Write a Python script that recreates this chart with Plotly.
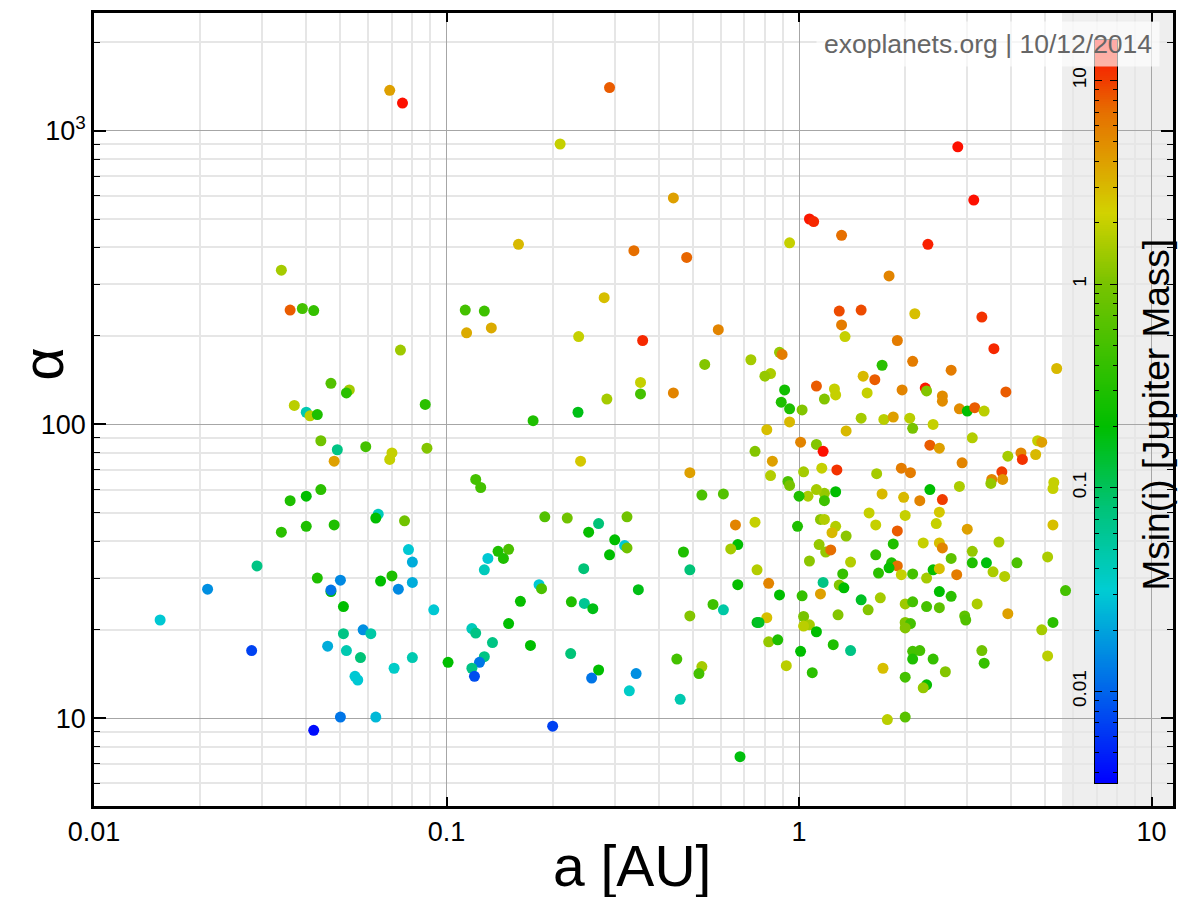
import numpy as np
import plotly.graph_objects as go

# ---------------- data ----------------
a_au = [
    0.069, 0.075, 0.034, 0.036, 0.039, 0.042, 0.074, 0.047, 0.053, 0.052,
    0.037, 0.040, 0.041, 0.043, 0.087, 0.044, 0.049, 0.059, 0.070, 0.069,
    0.048, 0.088, 0.044, 0.040, 0.036, 0.064, 0.063, 0.076, 0.048, 0.040,
    0.034, 0.078, 0.080, 0.029, 0.043, 0.050, 0.065, 0.070, 0.080, 0.073,
    0.021, 0.047, 0.047, 0.051, 0.092, 0.0154, 0.058, 0.061, 0.051, 0.028,
    0.046, 0.052, 0.057, 0.080, 0.071, 0.055, 0.056, 0.050, 0.063, 0.042,
    0.29, 0.21, 0.44, 0.16, 0.34, 0.48, 0.28, 0.113, 0.128, 0.114,
    0.134, 0.237, 0.36, 0.59, 0.54, 0.73, 0.355, 0.355, 0.285, 0.44,
    0.236, 0.176, 0.24, 0.49, 0.75, 0.121, 0.125, 0.53, 0.61, 0.19,
    0.22, 0.325, 0.27, 0.253, 0.66, 0.75, 0.30, 0.32, 0.325, 0.67,
    0.64, 0.29, 0.47, 0.14, 0.15, 0.145, 0.131, 0.128, 0.245, 0.49,
    0.76, 0.183, 0.186, 0.67, 0.35, 0.162, 0.226, 0.246, 0.26, 0.57,
    0.61, 0.49, 0.76, 0.118, 0.121, 0.15, 0.135, 0.173, 0.225, 0.128,
    0.124, 0.118, 0.12, 0.101, 0.27, 0.258, 0.345, 0.33, 0.45, 0.53,
    0.52, 0.46, 0.20, 0.68,
    2.82, 3.13, 1.07, 1.1, 1.32, 0.94, 2.32, 1.8, 1.3, 1.5,
    1.32, 1.35, 2.13, 3.3, 3.57, 1.9, 5.38, 0.88, 0.895, 0.83,
    0.8, 1.72, 2.1, 2.7, 1.52, 1.64, 1.12, 0.91, 1.26, 1.27,
    1.56, 1.96, 2.28, 2.3, 2.55, 2.55, 3.86, 1.18, 0.89, 0.94,
    1.02, 2.85, 3.0, 3.15, 3.35,
    0.94, 0.81, 1.36, 1.5, 1.74, 1.85, 2.06, 2.1, 2.4, 3.1,
    1.01, 1.12, 1.17, 0.84, 1.28, 1.16, 1.03, 0.83, 0.93, 0.94,
    1.66, 1.95, 2.07, 2.35, 2.5, 2.9, 3.76, 3.52, 3.78, 3.5,
    3.91, 4.26, 4.3, 4.69, 4.75, 4.88, 5.28, 5.25, 5.25, 5.07,
    5.7, 5.25, 4.88, 5.07, 2.85, 2.35, 2.55, 2.2, 1.98, 1.72,
    1.27, 1.18, 1.12, 1.18, 1.06, 1.0, 2.5, 2.45, 2.0, 1.58,
    1.65, 1.9, 3.0, 3.69, 0.99, 1.15, 1.18, 1.27, 1.24, 1.36,
    1.14, 1.19, 1.23, 1.85, 2.25, 2.5, 2.55, 3.1, 2.7, 3.1,
    3.4, 4.15, 3.55, 3.83, 1.65, 1.07, 1.4, 1.83, 1.9, 1.8,
    1.33, 1.68, 1.95, 2.1, 2.3, 2.4, 2.5, 2.8, 1.17, 0.82,
    1.3, 1.34, 0.88, 1.02, 1.15, 1.5, 1.7, 2.5, 2.7, 3.2,
    3.91, 1.57, 2.0, 2.1, 2.3, 2.5, 2.95, 2.97, 1.29, 1.03,
    1.07, 1.03, 0.81, 0.77, 1.12, 2.0, 2.07, 2.0, 0.82, 0.87,
    1.25, 1.4, 1.01, 2.1, 2.2, 2.1, 2.4, 3.3, 3.35, 0.92,
    1.09, 1.73, 2.6, 2.0, 2.3, 2.25, 1.78, 2.0,
]

alpha = [
    1370, 1240, 335, 245, 248, 244, 179, 138, 131, 128,
    116, 110, 107, 108, 117, 88, 82, 84, 80, 76,
    75, 83, 60, 57, 55, 49.5, 48, 47, 45.5, 45,
    43, 37.5, 34, 33, 30, 29.5, 29.3, 30.5, 29, 27.5,
    27.5, 27, 27.3, 24, 23.4, 21.6, 20, 19.4, 19.4, 17,
    17.6, 17, 16.1, 16.1, 14.8, 13.9, 13.5, 10.1, 10.1, 9.1,
    1400, 900, 590, 410, 390, 370, 270, 245, 243, 205,
    213, 199, 193, 210, 160, 166, 139, 127, 122, 128,
    110, 103, 75, 68.5, 81, 65, 61, 57.5, 58, 48.5,
    48, 48.5, 46, 43, 45.5, 46.5, 40.5, 38.7, 38, 39,
    37.7, 36, 36.8, 37, 37.6, 35, 35, 32, 32.3, 32,
    32, 28.5, 27.6, 28.5, 27.4, 25, 24.9, 24.6, 23.6, 24.4,
    23.4, 22.3, 21.2, 20.2, 19.5, 21, 18.1, 17.7, 16.6, 16.2,
    15.5, 14.8, 13.9, 15.5, 14.6, 13.7, 14.2, 12.4, 15.9, 15,
    14.2, 11.6, 9.4, 7.4,
    880, 580, 500, 490, 440, 415, 410, 320, 243, 245,
    218, 199, 238, 232, 181, 193, 155, 176, 173, 149,
    146, 159, 164, 153, 146, 142, 135, 131, 132, 126,
    128, 131, 133, 130, 125, 120, 129, 122, 119, 113,
    112, 113, 111, 114, 111,
    102, 96, 95, 105, 104, 106, 105, 97, 100, 90,
    87, 85.5, 81, 75, 70, 71, 69, 67, 64, 62,
    68, 71, 68.5, 85, 83, 74, 69, 65, 65, 63,
    78, 80, 76, 79, 88, 87, 63.5, 60.5, 45.5, 35.4,
    27.2, 21.2, 20, 16.3, 61.5, 60, 55.5, 55, 56.5, 58,
    59, 58.3, 60, 55, 57, 57, 50.3, 46, 49, 50,
    45.5, 43.4, 44, 39.8, 45, 47.5, 47.5, 45, 42.8, 41.7,
    39, 36.8, 37.4, 39.2, 39.5, 39.5, 38, 37, 35, 33.8,
    33.8, 33.8, 31.5, 30.4, 36, 34.3, 34, 33.8, 33, 32.5,
    31, 31.2, 30.8, 31, 30, 32, 32.3, 30.8, 29, 28.8,
    28.4, 27.8, 26.3, 26.1, 26.5, 25.3, 25.7, 27, 26, 24.5,
    22.7, 23.4, 24.5, 24.9, 24, 23.8, 22.3, 21.6, 22.5, 22.2,
    20.8, 20.6, 22, 21.2, 19.7, 21.2, 21, 20.3, 18.2, 18.5,
    17.8, 17, 16.9, 16.9, 17, 15.9, 15.9, 17, 15.4, 15.1,
    14.3, 14.8, 14.4, 13.8, 13.0, 12.7, 9.9, 10.1,
]

msini = [
    4, 15, 1.5, 8, 0.5, 0.4, 1.4, 0.6, 1.5, 0.35,
    1.8, 0.045, 1.8, 0.3, 0.35, 0.9, 0.07, 0.5, 2, 2,
    4, 1.1, 0.35, 0.2, 0.3, 0.04, 0.2, 0.9, 0.3, 0.3,
    0.35, 0.03, 0.022, 0.07, 0.3, 0.015, 0.2, 0.3, 0.022, 0.015,
    0.016, 0.2, 0.012, 0.2, 0.03, 0.03, 0.016, 0.05, 0.07, 0.007,
    0.022, 0.045, 0.08, 0.045, 0.035, 0.03, 0.03, 0.012, 0.025, 0.004,
    8, 2, 4, 3, 7, 7.5, 2.8, 0.5, 0.45, 3.5,
    3.5, 2, 12, 5.5, 1.1, 1.5, 2, 0.5, 1.5, 5.5,
    0.17, 0.3, 2.5, 4, 1.1, 0.5, 0.5, 0.55, 0.6, 0.6,
    0.9, 0.9, 0.08, 0.22, 5.5, 2, 0.2, 0.03, 0.9, 0.2,
    1.5, 0.2, 0.3, 0.3, 0.55, 0.3, 0.03, 0.04, 0.08, 0.08,
    1.7, 0.03, 0.55, 0.22, 0.17, 0.22, 0.3, 0.06, 0.17, 0.45,
    0.05, 1.1, 0.17, 0.04, 0.07, 0.2, 0.07, 0.2, 0.08, 0.07,
    0.012, 0.07, 0.008, 0.2, 0.2, 0.012, 0.016, 0.035, 0.5, 1.5,
    0.5, 0.045, 0.007, 0.18,
    15, 15, 14, 12, 7, 2, 13, 5.5, 9, 9,
    6, 2, 2.8, 11, 12, 6, 3, 1.3, 6, 1.6,
    1.3, 0.35, 6, 6, 3, 8, 8, 0.25, 2, 2,
    2, 5.5, 14, 1.1, 5, 5, 8, 1.1, 0.3, 0.3,
    1.1, 5, 0.2, 8, 1.8,
    3, 2.8, 3, 1.5, 1.8, 4, 1.8, 1.0, 2, 1.7,
    5.5, 1.1, 15, 4, 11, 2, 1.5, 1.7, 0.55, 1.0,
    1.5, 6, 6, 8, 4, 5.5, 10, 5.5, 4.5, 1.3,
    1.5, 5.5, 11, 3, 2, 4, 2, 2, 2.8, 1.6,
    0.5, 0.35, 1.5, 1.8, 1.6, 0.2, 10, 5.5, 3, 3,
    0.2, 1.3, 1.5, 0.45, 1.6, 0.3, 2.5, 2, 2, 2,
    2, 8, 4, 1.6, 0.3, 1.2, 1.7, 1.7, 3, 1.2,
    1.3, 1.3, 7, 0.3, 2, 2.8, 5.5, 1.3, 0.7, 0.3,
    0.18, 0.55, 1.6, 1.7, 0.4, 1.2, 1.7, 0.3, 7, 0.22,
    0.4, 0.35, 2, 0.5, 1.5, 0.22, 2.8, 6, 0.07, 5.5,
    1.1, 0.2, 0.2, 0.4, 4, 0.15, 1.5, 0.2, 0.35, 1.6,
    4, 1.1, 1.4, 0.5, 0.5, 0.7, 0.7, 0.6, 1.1, 1.0,
    1.5, 1.8, 2.8, 0.15, 0.2, 1.1, 0.5, 1.1, 1.3, 0.3,
    0.3, 0.07, 0.2, 0.5, 0.5, 0.3, 0.4, 0.9, 0.4, 1.8,
    0.35, 2.8, 1.1, 0.5, 0.22, 1.3, 1.8, 0.65,
]

x_tickvals = [0.01, 0.1, 1, 10]
x_ticktext = ["0.01", "0.1", "1", "10"]
y_tickvals = [10, 100, 1000]
y_ticktext = ["10", "100", "10<sup>3</sup>"]
cb_tickvals = [0.01, 0.1, 1, 10]
cb_ticktext = ["0.01", "0.1", "1", "10"]

# ---------------- styling ----------------
FONT = "Liberation Sans, Arial, Helvetica, sans-serif"
L, R, T, B = 94, 22, 10, 91
W, H = 1195, 897
PW, PH = W - L - R, H - T - B


def px_x(p):
    return (p - L) / PW


def px_y(p):
    return (H - B - p) / PH


CMIN, CMAX = -2.45, 1.2
stops = [(-2.45, "rgb(0,0,255)"), (-2.0, "rgb(0,100,235)"), (-1.5, "rgb(0,205,210)"),
         (-1.1, "rgb(0,195,120)"), (-0.7, "rgb(0,190,0)"), (0.0, "rgb(120,195,0)"),
         (0.35, "rgb(210,210,0)"), (0.6, "rgb(222,160,0)"), (0.85, "rgb(230,110,0)"),
         (1.0, "rgb(240,60,0)"), (1.2, "rgb(255,10,0)")]
colorscale = [[(v - CMIN) / (CMAX - CMIN), c] for v, c in stops]

minor_x = [k * 10.0 ** d for d in (-2, -1, 0, 1) for k in range(2, 10)]
minor_y = [k * 10.0 ** d for d in (0, 1, 2, 3) for k in range(2, 10)]
minor_cb = [np.log10(k * 10.0 ** d) for d in (-3, -2, -1, 0, 1) for k in range(2, 10)]

fig = go.Figure()

fig.add_trace(go.Scatter(
    x=a_au, y=alpha, mode="markers", showlegend=False, hoverinfo="skip",
    marker=dict(size=11, color=np.log10(msini), colorscale=colorscale,
                cmin=CMIN, cmax=CMAX, line=dict(width=0)),
))

# colour bar drawn as a small heatmap on its own axes
grad = np.linspace(CMIN, CMAX, 400)
fig.add_trace(go.Heatmap(
    x=[0, 1], y=grad, z=np.column_stack([grad, grad]), colorscale=colorscale,
    zmin=CMIN, zmax=CMAX, showscale=False, xaxis="x2", yaxis="y2", hoverinfo="skip",
))

axis_common = dict(
    showline=True, linecolor="black", linewidth=2.5, mirror="allticks",
    ticks="inside", tickcolor="black", tickwidth=1.5,
    showgrid=True, gridcolor="#a6a6a6", gridwidth=1.2, zeroline=False,
    tickfont=dict(family=FONT, size=27, color="black"),
)

fig.update_layout(
    width=W, height=H,
    margin=dict(l=L, r=R, t=T, b=B),
    paper_bgcolor="white", plot_bgcolor="white",
    font=dict(family=FONT, color="black"),
    xaxis=dict(type="log", range=[-2, np.log10(11.5)], tickvals=x_tickvals,
               ticktext=x_ticktext, ticklen=9,
               minor=dict(tickvals=minor_x, showgrid=True, gridcolor="#e6e6e6",
                          gridwidth=1.6, ticks=""),
               **axis_common),
    yaxis=dict(type="log", range=[np.log10(5.03), 3.4], tickvals=y_tickvals,
               ticktext=y_ticktext, ticklen=12,
               minor=dict(tickvals=minor_y, showgrid=True, gridcolor="#e6e6e6",
                          gridwidth=1.6, ticks="inside", ticklen=6,
                          tickcolor="black", tickwidth=1.2),
               **axis_common),
    xaxis2=dict(domain=[px_x(1095), px_x(1117)], anchor="y2", range=[-0.5, 1.5],
                showticklabels=False, showgrid=False, zeroline=False, ticks="",
                showline=True, linecolor="black", linewidth=1.2, mirror=True),
    yaxis2=dict(domain=[px_y(783), px_y(37)], anchor="x2", range=[CMIN, CMAX],
                tickvals=list(np.log10(cb_tickvals)), ticktext=cb_ticktext,
                tickangle=-90, side="left", ticks="inside", ticklen=7,
                tickcolor="black", tickwidth=1.2, mirror="allticks",
                showline=True, linecolor="black", linewidth=1.2,
                showgrid=False, zeroline=False,
                tickfont=dict(family=FONT, size=19, color="black"),
                minor=dict(tickvals=minor_cb, ticks="inside", ticklen=4,
                           tickcolor="black", tickwidth=1, showgrid=False)),
    shapes=[dict(type="rect", xref="paper", yref="paper", x0=px_x(1062), x1=1,
                 y0=0, y1=1, fillcolor="#eeeeee", line=dict(width=0), layer="below")],
    annotations=[
        dict(text="a [AU]", xref="paper", yref="paper", x=px_x(632), y=px_y(866),
             xanchor="center", yanchor="middle", showarrow=False,
             font=dict(family=FONT, size=57, color="black")),
        dict(text="α", xref="paper", yref="paper", x=px_x(43), y=px_y(362),
             xanchor="center", yanchor="middle", showarrow=False, textangle=-90,
             font=dict(family=FONT, size=58, color="black")),
        dict(text="Msin(i) [Jupiter Mass]", xref="paper", yref="paper",
             x=px_x(1156), y=px_y(413), xanchor="center", yanchor="middle",
             showarrow=False, textangle=-90,
             font=dict(family=FONT, size=37, color="black")),
        dict(text="exoplanets.org | 10/12/2014", xref="paper", yref="paper",
             x=px_x(1160), y=px_y(41), xanchor="right", yanchor="middle",
             showarrow=False, bgcolor="rgba(255,255,255,0.65)", borderpad=7,
             font=dict(family=FONT, size=26.5, color="#666666")),
    ],
)

fig.write_html("out.html", config={"displayModeBar": False},
               post_script="document.body.style.margin='0';")
